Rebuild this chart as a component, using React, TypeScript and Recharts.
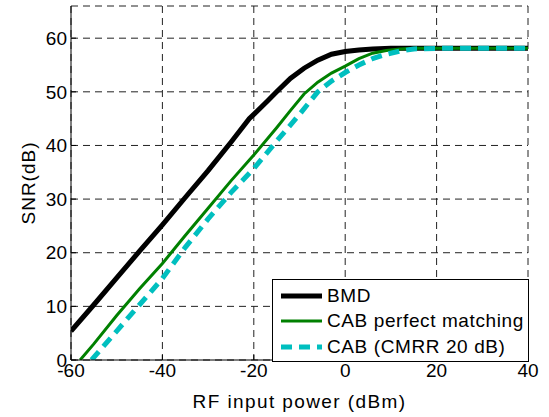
import { LineChart, Line, XAxis, YAxis, CartesianGrid, Label } from 'recharts';

const X_TICKS = [-60, -40, -20, 0, 20, 40];
const Y_TICKS = [0, 10, 20, 30, 40, 50, 60];

const bmdPower = [-60, -55, -50, -45, -40, -35, -30, -25, -21, -20, -17, -15, -12, -9, -6, -3, 0, 3, 6, 10, 20, 30, 40];
const bmdSnr = [5.4, 10.3, 15.3, 20.3, 25.2, 30.3, 35.3, 40.6, 45, 45.8, 48.3, 50, 52.5, 54.4, 55.9, 57, 57.5, 57.8, 58, 58.1, 58.1, 58.1, 58.1];

const cabPower = [-58, -55, -50, -45, -40, -35, -30, -25, -20, -15, -12, -9, -6, -3, 0, 3, 6, 9, 12, 15, 20, 30, 40];
const cabSnr = [0, 3, 8.3, 13.3, 18, 23.2, 28.3, 33.4, 38.2, 43.3, 46.5, 49.6, 51.8, 53.5, 54.8, 56.2, 57.2, 57.7, 58, 58.1, 58.1, 58.1, 58.1];

const cmrrPower = [-55.5, -50, -45, -40, -35, -30, -25, -20, -15, -10, -6, -3, 0, 3, 6, 9, 12, 15, 20, 30, 40];
const cmrrSnr = [0, 5.4, 10.3, 15.2, 21, 26.3, 31.2, 35.7, 40.8, 45.8, 50, 52, 53.6, 55, 56.2, 57, 57.6, 58, 58.1, 58.1, 58.1];

const toRows = (xs: number[], ys: number[]) => xs.map((x, i) => ({ x, y: ys[i] }));

const SERIES = [
  { name: 'BMD', data: toRows(bmdPower, bmdSnr), color: '#000000', width: 5, dash: undefined as string | undefined },
  { name: 'CAB perfect matching', data: toRows(cabPower, cabSnr), color: '#008000', width: 3, dash: undefined },
  { name: 'CAB (CMRR 20 dB)', data: toRows(cmrrPower, cmrrSnr), color: '#00BFBF', width: 5, dash: '11 7' },
];

const FONT = 'Arial, "Liberation Sans", sans-serif';

function LegendBox() {
  return (
    <div
      style={{
        position: 'absolute',
        left: 272,
        top: 279,
        border: '1px solid #000',
        background: '#fff',
        width: 255,
        height: 78,
        paddingTop: 3,
        fontFamily: FONT,
        fontSize: 19,
        color: '#000',
      }}
    >
      {SERIES.map((s) => (
        <div key={s.name} style={{ display: 'flex', alignItems: 'center', height: 25.5 }}>
          <svg width={54} height={10} style={{ flexShrink: 0 }}>
            <line x1={8} x2={49} y1={5} y2={5} stroke={s.color} strokeWidth={s.width} strokeDasharray={s.dash} />
          </svg>
          <span style={{ whiteSpace: 'nowrap', letterSpacing: 0.6 }}>{s.name}</span>
        </div>
      ))}
    </div>
  );
}

export default function App() {
  return (
    <div style={{ position: 'absolute', left: 0, top: 0, width: 549, height: 417, background: '#fff' }}>
      <LineChart width={549} height={417} margin={{ top: 6, right: 21, left: 0, bottom: 0 }}>
        <CartesianGrid stroke="#222" strokeDasharray="7 5" strokeWidth={1} />
        <XAxis
          dataKey="x"
          type="number"
          domain={[-60, 40]}
          ticks={X_TICKS}
          height={57}
          allowDataOverflow
          stroke="#000"
          tickSize={-5}
          tickMargin={9}
          tick={{ fill: '#000', fontSize: 19, fontFamily: FONT }}
        >
          <Label
            content={({ viewBox }: any) => (
              <text
                x={viewBox.x + viewBox.width / 2}
                y={408}
                textAnchor="middle"
                fontSize={19}
                fontFamily={FONT}
                letterSpacing={1.4}
                fill="#000"
              >
                RF input power (dBm)
              </text>
            )}
          />
        </XAxis>
        <XAxis
          xAxisId="top"
          orientation="top"
          dataKey="x"
          type="number"
          domain={[-60, 40]}
          ticks={X_TICKS}
          height={0}
          stroke="#000"
          tickSize={-5}
          tick={() => <g />}
        />
        <YAxis
          type="number"
          domain={[0, 66]}
          ticks={Y_TICKS}
          width={71}
          allowDataOverflow
          stroke="#000"
          tickSize={-5}
          tickMargin={9}
          tick={{ fill: '#000', fontSize: 19, fontFamily: FONT }}
        >
          <Label
            content={({ viewBox }: any) => (
              <text
                transform={`translate(28, ${viewBox.y + viewBox.height / 2}) rotate(-90)`}
                textAnchor="middle"
                dominantBaseline="central"
                fontSize={19}
                fontFamily={FONT}
                letterSpacing={1}
                fill="#000"
              >
                SNR(dB)
              </text>
            )}
          />
        </YAxis>
        <YAxis
          yAxisId="right"
          orientation="right"
          type="number"
          domain={[0, 66]}
          ticks={Y_TICKS}
          width={0}
          stroke="#000"
          tickSize={-5}
          tick={() => <g />}
        />
        {SERIES.map((s) => (
          <Line
            key={s.name}
            data={s.data}
            dataKey="y"
            name={s.name}
            type="linear"
            stroke={s.color}
            strokeWidth={s.width}
            strokeDasharray={s.dash}
            dot={false}
            activeDot={false}
            isAnimationActive={false}
          />
        ))}
      </LineChart>
      <LegendBox />
    </div>
  );
}
